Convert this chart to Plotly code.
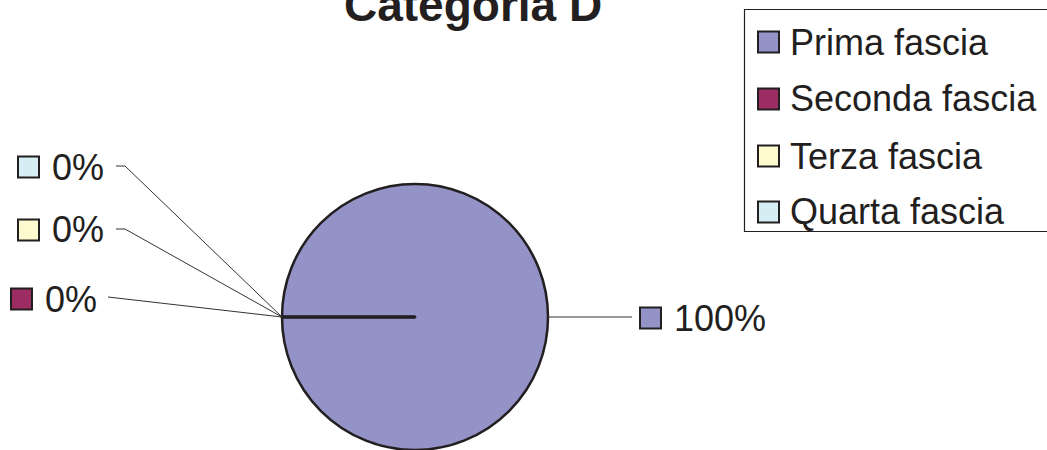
import math
import plotly.graph_objects as go

# Fasce di reddito, categoria D (percentuali)
labels = ["Prima fascia", "Seconda fascia", "Terza fascia", "Quarta fascia"]
values = [100, 0, 0, 0]
colors = ["#9493C8", "#9B2D62", "#FEFAD0", "#D5EEF3"]
title_text = "Categoria D"

W, H = 1047, 450
FONT = "Liberation Sans, Arial, sans-serif"
EDGE = "#231F20"

# pie geometry in pixels
cx, cy, r = 415, 317, 133


def px(x):
    return x / W


def py(y):
    return 1 - y / H


fig = go.Figure(go.Pie(
    labels=labels,
    values=values,
    marker=dict(colors=colors, line=dict(color=EDGE, width=2.5)),
    textinfo="none",
    hoverinfo="label+percent",
    sort=False,
    direction="clockwise",
    rotation=-90,
    showlegend=False,
    domain=dict(x=[px(cx - r), px(cx + r)], y=[py(cy + r), py(cy - r)]),
))

shapes = []
annotations = []

# slice boundary angles (clockwise from 9 o'clock), screen coordinates
total = sum(values)
cum = 0.0
mid_angles = []
for v in values:
    a0 = 180 - 360 * cum / total
    cum += v
    a1 = 180 - 360 * cum / total
    mid_angles.append((a0 + a1) / 2)

# radius line at the boundary where the first slice starts
a = math.radians(180)
shapes.append(dict(type="line", xref="paper", yref="paper",
                   x0=px(cx), y0=py(cy),
                   x1=px(cx + r * math.cos(a)), y1=py(cy - r * math.sin(a)),
                   line=dict(color=EDGE, width=3)))

# outside labels: (square left x, centre y, leader path end points)
label_layout = [
    dict(sq_x=640, y=318, path=[(632, 317)]),
    dict(sq_x=11, y=299, path=[(108, 297)]),
    dict(sq_x=18, y=230, path=[(125, 229), (116, 229)]),
    dict(sq_x=18, y=167, path=[(125, 166), (116, 166)]),
]
SQ = 21
for i, (lab, v, col, ang) in enumerate(zip(labels, values, colors, mid_angles)):
    lay = label_layout[i]
    t = math.radians(ang)
    sx, sy = cx + r * math.cos(t), cy - r * math.sin(t)
    pts = [(sx, sy)] + lay["path"]
    for (x0, y0), (x1, y1) in zip(pts[:-1], pts[1:]):
        shapes.append(dict(type="line", xref="paper", yref="paper",
                           x0=px(x0), y0=py(y0), x1=px(x1), y1=py(y1),
                           line=dict(color="#333333", width=1)))
    shapes.append(dict(type="rect", xref="paper", yref="paper",
                       x0=px(lay["sq_x"]), x1=px(lay["sq_x"] + SQ),
                       y0=py(lay["y"] - SQ / 2), y1=py(lay["y"] + SQ / 2),
                       fillcolor=col, line=dict(color=EDGE, width=2)))
    annotations.append(dict(xref="paper", yref="paper",
                            x=px(lay["sq_x"] + SQ + 11), y=py(lay["y"]),
                            xanchor="left", yanchor="middle", showarrow=False,
                            text=f"{v / total * 100:.0f}%",
                            font=dict(family=FONT, size=36, color=EDGE)))

# legend box
shapes.append(dict(type="rect", xref="paper", yref="paper",
                   x0=px(744.5), x1=px(1052), y0=py(231.5), y1=py(9.5),
                   fillcolor="white", line=dict(color=EDGE, width=1.2),
                   layer="below"))
legend_y = [42, 99, 156, 212]
for lab, col, yy in zip(labels, colors, legend_y):
    shapes.append(dict(type="rect", xref="paper", yref="paper",
                       x0=px(758), x1=px(758 + SQ),
                       y0=py(yy - SQ / 2), y1=py(yy + SQ / 2),
                       fillcolor=col, line=dict(color=EDGE, width=2)))
    annotations.append(dict(xref="paper", yref="paper",
                            x=px(788), y=py(yy), xanchor="left", yanchor="middle",
                            showarrow=False, text=lab,
                            font=dict(family=FONT, size=36, color=EDGE)))

# title
annotations.append(dict(xref="paper", yref="paper", x=px(473), y=py(23),
                        xanchor="center", yanchor="bottom", showarrow=False,
                        text=f"<b>{title_text}</b>", yshift=-10,
                        font=dict(family=FONT, size=46, color=EDGE)))

fig.update_layout(
    width=W, height=H,
    margin=dict(l=0, r=0, t=0, b=0),
    paper_bgcolor="white", plot_bgcolor="white",
    shapes=shapes, annotations=annotations,
    showlegend=False,
)

fig.write_html("out.html")
